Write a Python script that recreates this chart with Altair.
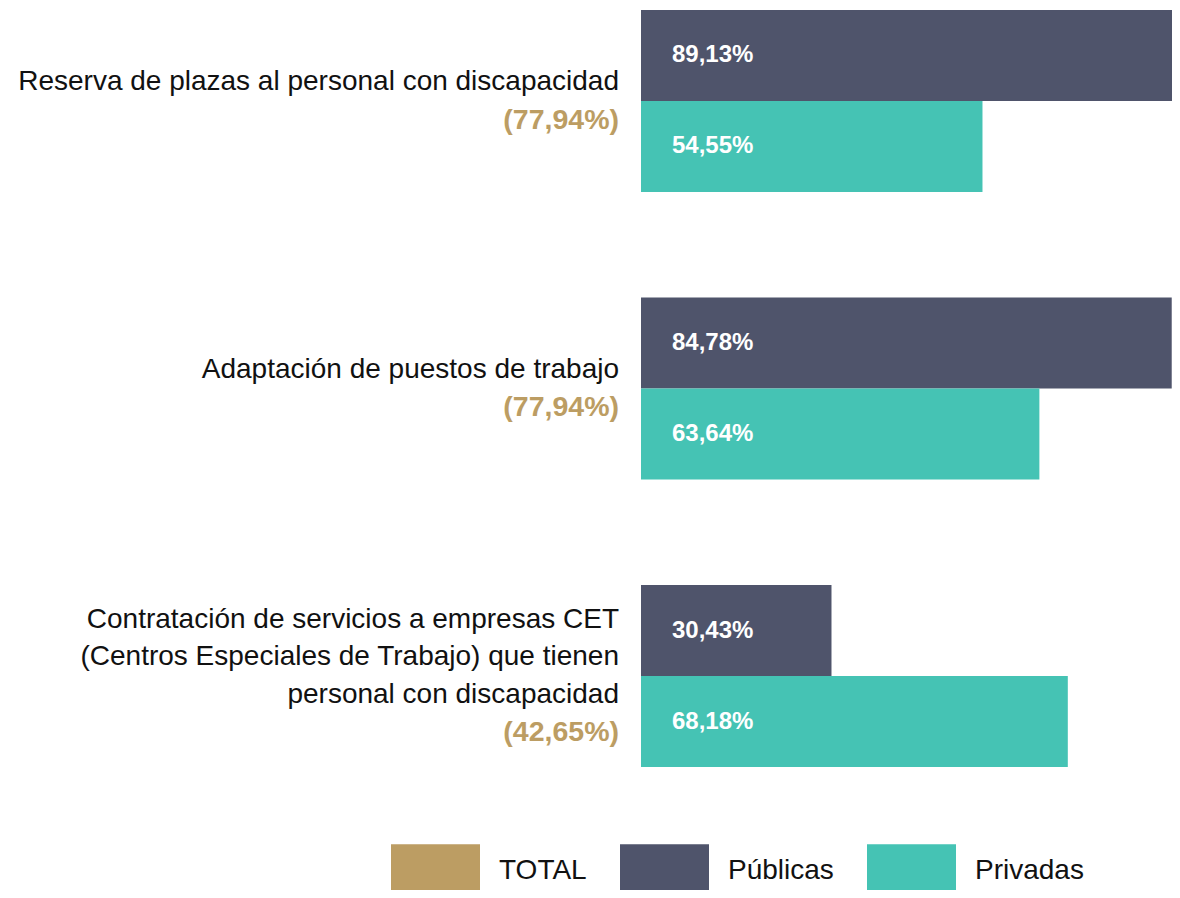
import altair as alt
import pandas as pd

# ---- data ----
claves = ["reserva", "adaptacion", "cet"]
categorias = [
    ["Reserva de plazas al personal con discapacidad"],
    ["Adaptación de puestos de trabajo"],
    ["Contratación de servicios a empresas CET",
     "(Centros Especiales de Trabajo) que tienen",
     "personal con discapacidad"],
]
total = [77.94, 77.94, 42.65]
publicas = [89.13, 84.78, 30.43]
privadas = [54.55, 63.64, 68.18]
series = ["TOTAL", "Públicas", "Privadas"]
colores = ["#bc9d63", "#4f546b", "#45c3b4"]

FONT = "Liberation Sans"
LINE = 37.5      # line height of the category labels (px)
BAND = 182       # height of one category band (two bars)


def fmt(v):
    return f"{v:.2f}".replace(".", ",") + "%"


rows = []
for k, pu, pr in zip(claves, publicas, privadas):
    rows.append({"cat": k, "serie": "Públicas", "valor": pu, "label": fmt(pu)})
    rows.append({"cat": k, "serie": "Privadas", "valor": pr, "label": fmt(pr)})
bars_df = pd.DataFrame(rows)

# one row per text line; "slot" = line index relative to the block centre
line_rows = []
for k, lines, t in zip(claves, categorias, total):
    allines = [(s, "cat") for s in lines] + [(f"({fmt(t)})", "total")]
    m = len(allines)
    for i, (s, kind) in enumerate(allines):
        line_rows.append({"cat": k, "texto": s, "tipo": kind, "slot": i - (m - 1) / 2})
lines_df = pd.DataFrame(line_rows)

# ---- scales ----
x_scale = alt.Scale(domain=[0, 100], range=[633, 1259])
y_enc = alt.Y("cat:N", sort=claves, axis=None,
              scale=alt.Scale(range=[2, 759], paddingInner=0.367, paddingOuter=0))
yoff_enc = alt.YOffset("serie:N", sort=["Públicas", "Privadas"],
                       scale=alt.Scale(type="band", paddingInner=0, paddingOuter=0))
half = BAND / 2 / LINE
slot_enc = alt.YOffset("slot:Q", scale=alt.Scale(domain=[-half, half], range=[0, BAND]))

bars = alt.Chart(bars_df).mark_bar(clip=True).encode(
    x=alt.X("valor:Q", scale=x_scale, axis=None),
    y=y_enc,
    yOffset=yoff_enc,
    color=alt.Color(
        "serie:N",
        scale=alt.Scale(domain=series, range=colores),
        legend=alt.Legend(
            title=None,
            orient="none",
            legendX=383,
            legendY=818,
            direction="horizontal",
            symbolType="M-1,-0.6H1V0.6H-1Z",
            symbolSize=7921,
            symbolStrokeWidth=0,
            symbolOpacity=1,
            labelFont=FONT,
            labelFontSize=28,
            labelColor="#111111",
            labelOffset=19,
            labelLimit=300,
            columnPadding=33,
        ),
    ),
)

values = alt.Chart(bars_df).mark_text(
    align="left", baseline="middle", dx=31, color="white",
    fontWeight="bold", fontSize=24, font=FONT,
).encode(
    x=alt.datum(0),
    y=y_enc,
    yOffset=yoff_enc,
    text="label:N",
)

bar_layers = alt.layer(bars, values)

cats = alt.Chart(lines_df).transform_filter(alt.datum.tipo == "cat").mark_text(
    align="right", baseline="middle", dx=-22, color="#111111",
    fontSize=28, font=FONT,
).encode(
    x=alt.datum(0),
    y=y_enc,
    yOffset=slot_enc,
    text="texto:N",
)

totals = alt.Chart(lines_df).transform_filter(alt.datum.tipo == "total").mark_text(
    align="right", baseline="middle", dx=-22, color="#bc9d63",
    fontSize=28.5, fontWeight="bold", font=FONT,
).encode(
    x=alt.datum(0),
    y=y_enc,
    yOffset=slot_enc,
    text="texto:N",
)

label_layers = alt.layer(cats, totals)

chart = alt.layer(bar_layers, label_layers).resolve_scale(
    yOffset="independent"
).properties(
    width=1164,
    height=882,
    padding=0,
    autosize=alt.AutoSizeParams(type="none"),
).configure_view(stroke=None)

chart.save("out.html", embed_options={"renderer": "svg", "actions": False})
